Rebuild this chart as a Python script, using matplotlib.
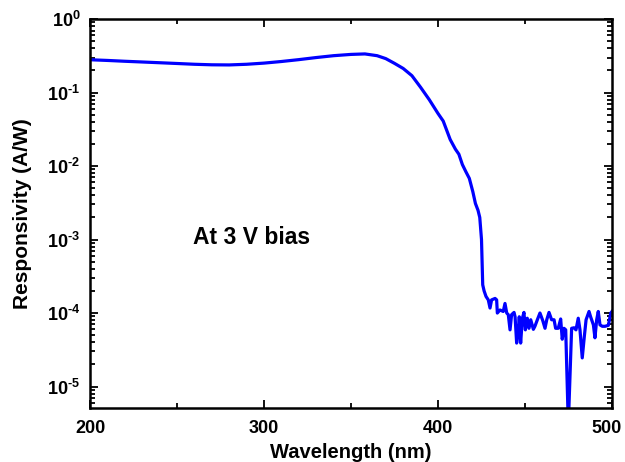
import math
import matplotlib
matplotlib.use("Agg")
import matplotlib.pyplot as plt
import matplotlib.transforms as mtransforms
from matplotlib.ticker import LogLocator, MultipleLocator, NullFormatter, FuncFormatter

plt.rcParams['font.family'] = ['Liberation Sans', 'DejaVu Sans']
plt.rcParams['font.weight'] = 'bold'
plt.rcParams['mathtext.fontset'] = 'custom'
plt.rcParams['mathtext.rm'] = 'Liberation Sans:bold'
plt.rcParams['mathtext.bf'] = 'Liberation Sans:bold'
plt.rcParams['mathtext.it'] = 'Liberation Sans:bold'
plt.rcParams['mathtext.default'] = 'bf'

# Wavelength (nm)
wavelength = [200, 210, 220, 230, 240, 250, 260, 270, 280, 290, 300, 310, 320, 330,
              340, 350, 358, 365, 370, 375, 380, 385, 390, 395, 400, 403, 407, 410,
              412, 414, 416, 418, 420, 421.5, 423, 424, 425, 425.7, 426.5, 427.6,
              428.9, 429.9, 430.8, 432.8, 433.7, 434.1, 435.6, 437.5, 438.5, 439.5,
              440.4, 441.4, 442.3, 443.7, 444.3, 445.2, 446.2, 446.7, 447.5, 448.5,
              449.4, 450.2, 451.3, 452.3, 453.3, 454.8, 455.7, 457.1, 458.6, 460.2,
              461.5, 462.5, 463.8, 465.3, 466.7, 467.6, 469.1, 470.5, 471.4, 472.4,
              473.4, 474.9, 476.8, 478.2, 479.3, 480.6, 481.6, 482.9, 484.1, 485.1,
              486.8, 487.7, 489.3, 490.2, 491.2, 492.1, 493.1, 494.4, 496.0, 497.9,
              499.3, 500]
# Responsivity (A/W)
responsivity = [0.280, 0.274, 0.267, 0.261, 0.255, 0.249, 0.243, 0.239, 0.238, 0.243,
                0.252, 0.265, 0.281, 0.300, 0.318, 0.331, 0.336, 0.318, 0.290, 0.250,
                0.213, 0.170, 0.118, 0.080, 0.052, 0.041, 0.023, 0.017, 0.0145, 0.0105,
                0.0084, 0.0068, 0.0045, 0.0031, 0.0025, 0.0020, 0.0010, 2.42e-4,
                2.0e-4, 1.68e-4, 1.51e-4, 1.17e-4, 1.51e-4, 1.58e-4, 1.51e-4, 1.0e-4,
                1.10e-4, 1.05e-4, 1.35e-4, 1.0e-4, 9.5e-5, 5.9e-5, 9.5e-5, 1.02e-4,
                8.9e-5, 3.9e-5, 5.9e-5, 8.9e-5, 3.9e-5, 8.5e-5, 1.02e-4, 5.9e-5,
                8.5e-5, 6.2e-5, 8.1e-5, 6.0e-5, 6.6e-5, 8.1e-5, 1.0e-4, 7.9e-5,
                6.2e-5, 8.1e-5, 1.02e-4, 8.1e-5, 8.1e-5, 6.2e-5, 6.2e-5, 8.3e-5,
                4.4e-5, 6.2e-5, 5.9e-5, 3.0e-6, 6.2e-5, 6.3e-5, 5.9e-5, 8.5e-5,
                5.9e-5, 2.45e-5, 4.8e-5, 8.1e-5, 1.05e-4, 8.9e-5, 6.9e-5, 4.6e-5,
                8.1e-5, 1.05e-4, 6.9e-5, 6.6e-5, 6.6e-5, 6.8e-5, 1.0e-4, 1.05e-4]
annotation = 'At 3 V bias'

fig = plt.figure(figsize=(6.25, 4.62), dpi=100)
ax = fig.add_axes([0.1440, 0.1169, 0.8352, 0.8417])

ax.plot(wavelength, responsivity, color='#0000ff', lw=2.3, solid_joinstyle='round')

ax.set_yscale('log')
ax.set_xlim(200, 500)
ax.set_ylim(5.1e-6, 1.0)

ax.xaxis.set_major_locator(MultipleLocator(100))
ax.xaxis.set_minor_locator(MultipleLocator(50))
ax.yaxis.set_major_locator(LogLocator(base=10, numticks=20))
ax.yaxis.set_minor_locator(LogLocator(base=10, subs=range(2, 10), numticks=20))
ax.yaxis.set_minor_formatter(NullFormatter())


def ylab(v, pos):
    e = int(round(math.log10(v)))
    if e < 0:
        return r'$\mathbf{10^{\text{-}%d}}$' % (-e)
    return r'$\mathbf{10^{%d}}$' % e


ax.yaxis.set_major_formatter(FuncFormatter(ylab))

ax.tick_params(which='both', direction='in', top=True, right=True, width=1.3,
               labelsize=13)
ax.tick_params(axis='x', which='major', length=6, pad=9)
ax.tick_params(axis='y', which='major', length=6, pad=7)
ax.tick_params(which='minor', length=3.5)
for s in ax.spines.values():
    s.set_linewidth(1.8)

ax.set_xlabel('Wavelength (nm)', fontsize=14.5, fontweight='bold', labelpad=4)
ax.set_ylabel('Responsivity (A/W)', fontsize=15, fontweight='bold', labelpad=11)

ax.text(259, 10**-2.97, annotation, fontsize=16.5, fontweight='bold',
        ha='left', va='center')

fig.canvas.draw()
xlabels = ax.get_xticklabels()
for lbl in xlabels:
    lbl.set_fontweight('bold')
    if lbl.get_text() == '500':
        lbl.set_transform(lbl.get_transform() +
                          mtransforms.ScaledTranslation(-5 / 100, 0, fig.dpi_scale_trans))

fig.savefig('out.png', dpi=100)
